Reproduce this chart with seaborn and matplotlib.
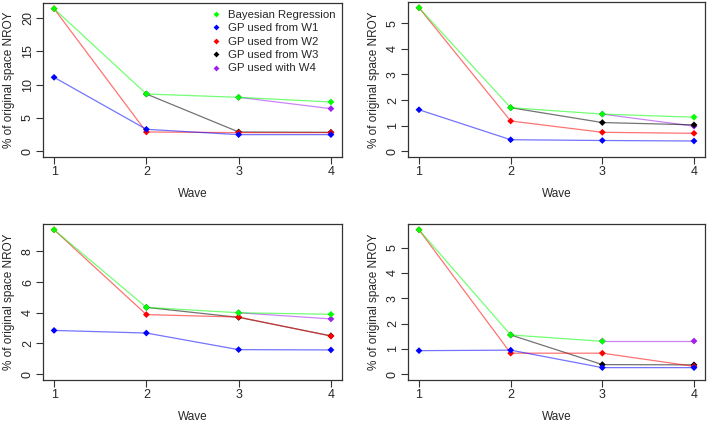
import numpy as np
import pandas as pd
import matplotlib
matplotlib.use('Agg')
import matplotlib.pyplot as plt
from matplotlib.lines import Line2D
import seaborn as sns

nan = np.nan
waves = [1, 2, 3, 4]
series = ['Bayesian Regression', 'GP used from W1', 'GP used from W2',
          'GP used from W3', 'GP used with W4']
colors = ['#00FF00', '#0000FF', '#FF0000', '#000000', '#A020F0']

# top left
p1_bayes = [21.4, 8.6, 8.1, 7.4]
p1_w1 = [11.1, 3.3, 2.5, 2.5]
p1_w2 = [21.4, 2.9, 2.8, 2.8]
p1_w3 = [nan, 8.6, 2.9, 2.85]
p1_w4 = [nan, nan, 8.1, 6.4]

# top right
p2_bayes = [5.6, 1.7, 1.45, 1.33]
p2_w1 = [1.62, 0.45, 0.42, 0.40]
p2_w2 = [5.6, 1.18, 0.74, 0.70]
p2_w3 = [nan, 1.7, 1.12, 1.03]
p2_w4 = [nan, nan, 1.45, 0.98]

# bottom left
p3_bayes = [9.4, 4.35, 4.0, 3.9]
p3_w1 = [2.85, 2.68, 1.6, 1.58]
p3_w2 = [9.4, 3.88, 3.72, 2.48]
p3_w3 = [nan, 4.35, 3.7, 2.5]
p3_w4 = [nan, nan, 4.0, 3.6]

# bottom right
p4_bayes = [5.7, 1.55, 1.3, nan]
p4_w1 = [0.93, 0.95, 0.26, 0.26]
p4_w2 = [5.7, 0.83, 0.83, 0.31]
p4_w3 = [nan, 1.55, 0.38, 0.37]
p4_w4 = [nan, nan, 1.31, 1.31]

panels = [
    [p1_bayes, p1_w1, p1_w2, p1_w3, p1_w4],
    [p2_bayes, p2_w1, p2_w2, p2_w3, p2_w4],
    [p3_bayes, p3_w1, p3_w2, p3_w3, p3_w4],
    [p4_bayes, p4_w1, p4_w2, p4_w3, p4_w4],
]
yticks = [[0, 5, 10, 15, 20], [0, 1, 2, 3, 4, 5], [0, 2, 4, 6, 8], [0, 1, 2, 3, 4, 5]]

sns.set_style('white')
plt.rcParams['font.family'] = ['Liberation Sans', 'DejaVu Sans']

fig = plt.figure(figsize=(7.09, 4.23), dpi=100)
W, H = 709, 423
boxes = [(43, 3, 342, 157), (408, 2, 705, 157), (43, 224, 342, 380), (408, 224, 705, 380)]
palette = dict(zip(series, colors))
draw_order = [4, 3, 2, 1, 0]

for k, (vals, (x0, y0, x1, y1)) in enumerate(zip(panels, boxes)):
    ax = fig.add_axes([x0 / W, 1 - y1 / H, (x1 - x0) / W, (y1 - y0) / H])
    rows = []
    for i in draw_order:
        for w, v in zip(waves, vals[i]):
            rows.append({'Wave': w, 'NROY': v, 'Series': series[i]})
    df = pd.DataFrame(rows).dropna()
    sns.lineplot(data=df, x='Wave', y='NROY', hue='Series', hue_order=[series[i] for i in draw_order],
                 palette=palette, estimator=None, lw=0.9, alpha=0.55, legend=False, ax=ax)
    sns.scatterplot(data=df, x='Wave', y='NROY', hue='Series', palette=palette, marker='D',
                    s=12, linewidth=0, legend=False, ax=ax, zorder=3)
    m = np.nanmax(np.array(vals, dtype=float))
    ax.set_ylim(-0.04 * m, m * 1.04)
    ax.set_xlim(1 - 0.12, 4 + 0.12)
    ax.set_xticks(waves)
    ax.set_yticks(yticks[k])
    ax.tick_params(axis='both', direction='out', length=5, width=0.8, color='#333333',
                   labelsize=9, bottom=True, left=True)
    ax.tick_params(axis='x', pad=1.5)
    ax.tick_params(axis='y', labelrotation=90, pad=1.5)
    for lab in ax.get_yticklabels():
        lab.set_va('center')
    for sp in ax.spines.values():
        sp.set_color('#333333')
        sp.set_linewidth(0.9)
    ax.set_xlabel('Wave', fontsize=8.5, labelpad=7)
    ax.set_ylabel('% of original space NROY', fontsize=8.5, labelpad=5)

    if k == 0:
        handles = [Line2D([], [], ls='none', marker='D', ms=3.0, color=c, mec='none') for c in colors]
        ax.legend(handles, series, loc='upper right', frameon=False, fontsize=8.2,
                  handlelength=1.0, handletextpad=0.5, labelspacing=0.3,
                  borderaxespad=0.2, bbox_to_anchor=(1.0, 1.0))

fig.savefig('out.png', dpi=100)
